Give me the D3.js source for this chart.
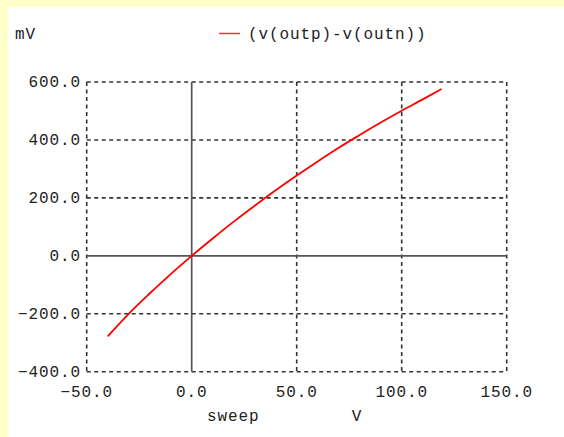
<!DOCTYPE html>
<html>
<head>
<meta charset="utf-8">
<script src="https://cdn.jsdelivr.net/npm/d3@7"></script>
<style>
  html, body { margin: 0; padding: 0; background: #ffffc8; }
  svg { display: block; }
  text { font-family: "Liberation Mono", "DejaVu Sans Mono", monospace; font-size: 16px; fill: #222; letter-spacing: 0.9px; }
</style>
</head>
<body>
<script>
// DC sweep result: differential output voltage vs. swept source
const sweepV = [-40, -30, -20, -10, 0, 10, 20, 30, 40, 50, 60, 70, 80, 90, 100, 110, 119];
const outMilliV = [-278, -200, -130, -63, 0, 60, 118, 173, 226, 277, 326, 373, 417, 460, 501, 540, 576];
const xTicks = [-50, 0, 50, 100, 150];
const yTicks = [-400, -200, 0, 200, 400, 600];
const seriesName = "(v(outp)-v(outn))";
const yUnit = "mV";
const xName = "sweep";
const xUnit = "V";

const W = 564, H = 437;
const svg = d3.select("body").append("svg").attr("width", W).attr("height", H);

// white plotting panel
svg.append("rect").attr("x", 8).attr("y", 7).attr("width", W - 8).attr("height", H - 7).attr("fill", "#fff");

const x = d3.scaleLinear().domain([-50, 150]).range([86.7, 506.7]);
const y = d3.scaleLinear().domain([-400, 600]).range([371.7, 82]);
const fmt = d => d3.format(".1f")(d).replace("-", "\u2212");

// dashed grid (includes the frame)
const grid = svg.append("g").attr("stroke", "#333").attr("stroke-width", 1.6).attr("stroke-dasharray", "4,3.5").attr("fill", "none");
grid.selectAll("line.v").data(xTicks.filter(d => d !== 0)).join("line")
  .attr("x1", d => x(d)).attr("x2", d => x(d)).attr("y1", y(600)).attr("y2", y(-400));
grid.selectAll("line.h").data(yTicks.filter(d => d !== 0)).join("line")
  .attr("y1", d => y(d)).attr("y2", d => y(d)).attr("x1", x(-50)).attr("x2", x(150));

// solid zero axes
svg.append("line").attr("x1", x(0)).attr("x2", x(0)).attr("y1", y(600)).attr("y2", y(-400))
  .attr("stroke", "#555").attr("stroke-width", 1.7);
svg.append("line").attr("x1", x(-50)).attr("x2", x(150)).attr("y1", y(0)).attr("y2", y(0))
  .attr("stroke", "#555").attr("stroke-width", 1.7);

// tick labels
svg.selectAll("text.xt").data(xTicks).join("text").attr("class", "xt")
  .attr("x", d => x(d)).attr("y", 397).attr("text-anchor", "middle").text(fmt);
svg.selectAll("text.yt").data(yTicks).join("text").attr("class", "yt")
  .attr("x", 81).attr("y", d => y(d) + 5).attr("text-anchor", "end").text(fmt);

// unit and axis titles
svg.append("text").attr("x", 15).attr("y", 39).text(yUnit);
svg.append("text").attr("x", 207).attr("y", 421).text(xName);
svg.append("text").attr("x", 357).attr("y", 421).attr("text-anchor", "middle").text(xUnit);

// legend
svg.append("line").attr("x1", 219).attr("x2", 240).attr("y1", 33.5).attr("y2", 33.5)
  .attr("stroke", "#ff3030").attr("stroke-width", 1.5);
svg.append("text").attr("x", 248).attr("y", 39).text(seriesName);

// data curve
const line = d3.line().x((d, i) => x(sweepV[i])).y(d => y(d)).curve(d3.curveMonotoneX);
svg.append("path").datum(outMilliV).attr("d", line)
  .attr("fill", "none").attr("stroke", "#ff0000").attr("stroke-width", 1.8);
</script>
</body>
</html>
